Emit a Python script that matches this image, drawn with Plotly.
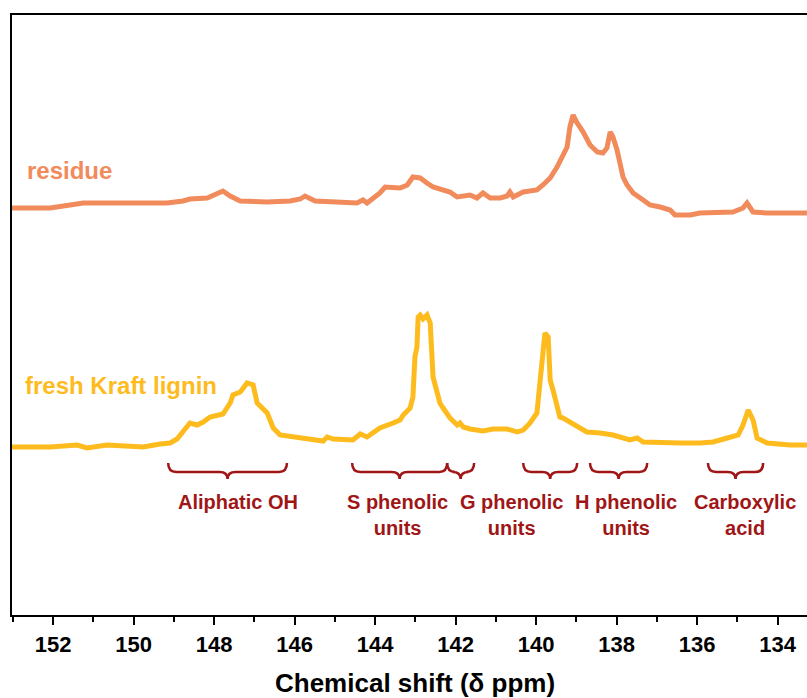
import plotly.graph_objects as go

# ---- data (chemical shift in ppm, intensity in arbitrary units) ----
residue_ppm = [153.02, 152.07, 151.25, 150.01, 149.17, 148.77, 148.60, 148.17, 147.93, 147.78,
               147.60, 147.35, 146.68, 146.11, 145.86, 145.74, 145.49, 145.04, 144.45, 144.30,
               144.20, 143.88, 143.75, 143.38, 143.20, 143.06, 142.88, 142.71, 142.56, 142.14,
               141.96, 141.64, 141.47, 141.32, 141.14, 140.89, 140.72, 140.65, 140.57, 140.32,
               139.98, 139.83, 139.65, 139.48, 139.33, 139.23, 139.16, 139.08, 138.98, 138.83,
               138.66, 138.48, 138.34, 138.24, 138.16, 138.09, 137.99, 137.91, 137.84, 137.74,
               137.59, 137.34, 137.17, 136.92, 136.67, 136.55, 136.17, 135.93, 135.11, 134.86,
               134.76, 134.61, 134.26, 133.27]
residue_int = [407, 407, 412, 412, 412, 414, 416, 417, 422, 424,
               419, 414, 413, 414, 416, 419, 414, 413, 412, 415,
               412, 422, 428, 427, 430, 438, 437, 432, 428, 423,
               418, 420, 417, 422, 417, 417, 419, 423, 418, 423,
               425, 430, 437, 448, 460, 468, 488, 500, 492, 483,
               470, 463, 462, 467, 483, 478, 465, 453, 438, 430,
               422, 415, 410, 408, 405, 400, 400, 402, 403, 407,
               412, 403, 402, 402]

fresh_ppm = [153.02, 152.07, 151.40, 151.16, 150.66, 149.76, 149.34, 149.09, 148.92, 148.77,
             148.60, 148.42, 148.27, 148.10, 147.78, 147.60, 147.53, 147.35, 147.18, 147.03,
             146.93, 146.68, 146.53, 146.36, 145.86, 145.44, 145.29, 145.19, 145.04, 144.55,
             144.37, 144.20, 143.88, 143.55, 143.38, 143.30, 143.13, 143.06, 143.01, 142.96,
             142.93, 142.88, 142.81, 142.71, 142.63, 142.56, 142.46, 142.39, 142.31, 142.14,
             141.96, 141.89, 141.81, 141.64, 141.32, 141.07, 140.72, 140.47, 140.32, 140.15,
             139.98, 139.90, 139.85, 139.78, 139.70, 139.65, 139.58, 139.48, 139.41, 139.33,
             139.16, 138.91, 138.74, 138.41, 138.09, 137.67, 137.49, 137.34, 136.75, 136.42,
             135.93, 135.60, 135.25, 134.98, 134.86, 134.73, 134.61, 134.51, 134.26, 133.69,
             133.27]
fresh_int = [168, 168, 170, 167, 170, 168, 171, 172, 176, 183,
             192, 190, 193, 198, 201, 212, 220, 223, 232, 230,
             212, 202, 187, 180, 177, 175, 174, 178, 176, 175,
             181, 178, 187, 192, 195, 200, 207, 218, 258, 268,
             298, 300, 296, 300, 292, 238, 225, 212, 207, 197,
             190, 192, 188, 186, 184, 186, 186, 183, 185, 192,
             202, 238, 258, 282, 278, 235, 225, 208, 198, 197,
             193, 187, 183, 182, 180, 175, 177, 173, 172, 172,
             172, 173, 177, 180, 190, 205, 195, 177, 172, 170,
             170]

# region braces (ppm start, ppm end)
brace_start = [149.14, 144.57, 142.21, 140.32, 138.66, 135.73]
brace_end = [146.19, 142.21, 141.54, 138.98, 137.24, 134.36]

# region labels
label_text = ["Aliphatic OH", "S phenolic<br>units", "G phenolic<br>units",
              "H phenolic<br>units", "Carboxylic<br>acid"]
label_ppm = [147.40, 143.45, 140.60, 137.77, 134.82]
label_int = [113, 100, 100, 100, 100]

series_names = ["residue", "fresh Kraft lignin"]
series_label_ppm = [152.70, 152.75]
series_label_int = [445, 230]

x_ticks = [152, 150, 148, 146, 144, 142, 140, 138, 136, 134]

# ---- styles ----
RES_COL = "rgb(241,139,92)"
FRESH_COL = "rgb(253,187,30)"
RED = "rgb(160,22,22)"
FONT = "Arial, Liberation Sans, sans-serif"

fig = go.Figure()
fig.add_trace(go.Scatter(x=residue_ppm, y=residue_int, mode="lines",
                         line=dict(color=RES_COL, width=5), name=series_names[0]))
fig.add_trace(go.Scatter(x=fresh_ppm, y=fresh_int, mode="lines",
                         line=dict(color=FRESH_COL, width=5), name=series_names[1]))

# braces
y_top, y_line, y_tip = 152, 143, 136
d = 0.2
for x0, x1 in zip(brace_start, brace_end):
    xm = (x0 + x1) / 2
    path = (f"M {x0},{y_top} Q {x0},{y_line} {x0 - d},{y_line} "
            f"L {xm + d},{y_line} Q {xm},{y_line} {xm},{y_tip} "
            f"Q {xm},{y_line} {xm - d},{y_line} "
            f"L {x1 + d},{y_line} Q {x1},{y_line} {x1},{y_top}")
    fig.add_shape(type="path", path=path, xref="x", yref="y",
                  line=dict(color=RED, width=2.5))

for t, xp, yp in zip(label_text, label_ppm, label_int):
    fig.add_annotation(x=xp, y=yp, text=f"<b>{t}</b>", showarrow=False,
                       xref="x", yref="y", xanchor="center", yanchor="middle",
                       font=dict(family=FONT, size=20, color=RED))

for name, xp, yp, col, fs in zip(series_names, series_label_ppm, series_label_int,
                                 [RES_COL, FRESH_COL], [24, 24]):
    fig.add_annotation(x=xp, y=yp, text=f"<b>{name}</b>", showarrow=False,
                       xref="x", yref="y", xanchor="left", yanchor="middle",
                       font=dict(family=FONT, size=fs, color=col))

# axis title
fig.add_annotation(x=0.507, y=-0.113, xref="paper", yref="paper",
                   text="<b>Chemical shift (δ ppm)</b>", showarrow=False,
                   xanchor="center", yanchor="middle",
                   font=dict(family=FONT, size=26, color="black"))

fig.update_layout(
    width=807, height=698,
    margin=dict(l=12, r=0, t=15, b=83),
    paper_bgcolor="white", plot_bgcolor="white",
    showlegend=False,
    xaxis=dict(range=[153.02, 133.27], tickvals=x_ticks, ticks="outside",
               ticklen=8, tickwidth=2, tickcolor="black",
               showline=True, linewidth=2, linecolor="black", mirror=True,
               showgrid=False, zeroline=False, ticklabelstandoff=1,
               tickfont=dict(family=FONT, size=22, color="black", weight="bold"),
               minor=dict(dtick=1, tick0=1, ticks="outside", ticklen=5,
                          tickwidth=2, tickcolor="black", showgrid=False)),
    yaxis=dict(range=[0, 600], showticklabels=False, ticks="",
               showline=True, linewidth=2, linecolor="black",
               showgrid=False, zeroline=False),
)

fig.write_html("out.html")
